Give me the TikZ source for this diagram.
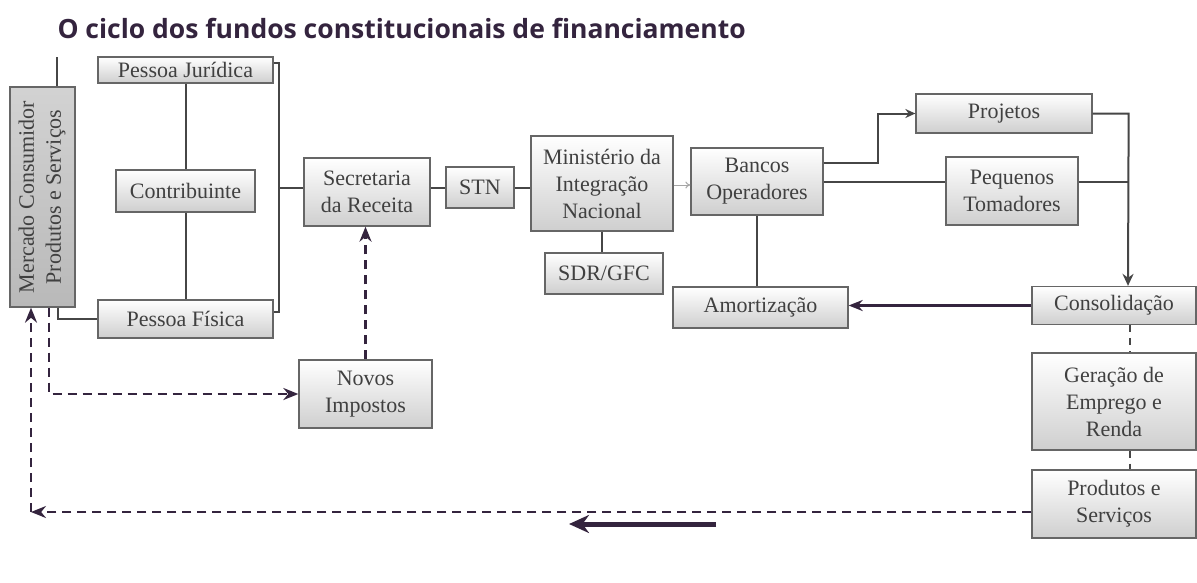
\documentclass[tikz,border=0pt]{standalone}
\usepackage[svgnames]{xcolor}
\usepackage{fontspec}
\setmainfont{Liberation Serif}
\newfontfamily\titulofonte{Open Sans}
\usepackage{tikz}
\usetikzlibrary{arrows.meta}

\definecolor{roxoescuro}{RGB}{52,36,62}
\definecolor{linhacinza}{RGB}{70,70,70}

\tikzset{
  caixa/.style={draw=gray!80!black, line width=1.3pt, top color=white, bottom color=gray!38,
    inner sep=0pt, align=center, text=black!75, font=\fontsize{22}{27}\selectfont},
  liga/.style={draw=linhacinza, line width=2pt},
  tracejada/.style={draw=roxoescuro, line width=2.4pt, dash pattern=on 9pt off 6pt,
    -{Stealth[length=15pt,width=12pt]}},
  seta/.style={draw=roxoescuro, line width=2.4pt, -{Stealth[length=14pt,width=11pt]}}
}

\begin{document}
\begin{tikzpicture}[x=1pt,y=-1pt]
  \useasboundingbox[fill=white] (0,0) rectangle (1197,582);
  \node[anchor=base west, text=roxoescuro, font=\titulofonte\bfseries\fontsize{26.5}{31}\selectfont]
    (titulo) at (54,38) {O ciclo dos fundos constitucionais de financiamento};

  % caixas
  \node[caixa, minimum width=65, minimum height=220, top color=gray!35, bottom color=gray!55] (merc) at (42.5,197)
    {\rotatebox{90}{\fontsize{22}{25}\selectfont\begin{tabular}{@{}c@{}}Mercado Consumidor\\[2pt]Produtos e Serviços\end{tabular}}};
  \node[caixa, minimum width=175, minimum height=26] (pj) at (185.5,70) {Pessoa Jurídica};
  \node[caixa, minimum width=139, minimum height=42] (contrib) at (185.5,191) {Contribuinte};
  \node[caixa, minimum width=175, minimum height=38] (pf) at (185.5,319) {Pessoa Física};
  \node[caixa, minimum width=126, minimum height=68] (sec) at (367,192) {Secretaria\\da Receita};
  \node[caixa, minimum width=68, minimum height=41] (stn) at (480,187.5) {STN};
  \node[caixa, minimum width=142, minimum height=95] (min) at (602,183.5) {Ministério da\\Integração\\Nacional};
  \node[caixa, minimum width=118, minimum height=41] (sdr) at (604,273.5) {SDR/GFC};
  \node[caixa, minimum width=133, minimum height=68] (novos) at (365.5,394) {Novos\\Impostos};
  \node[caixa, minimum width=132, minimum height=67] (bancos) at (757,181.5) {Bancos\\Operadores};
  \node[caixa, minimum width=176, minimum height=39] (proj) at (1004,113.5) {Projetos};
  \node[caixa, minimum width=132, minimum height=68] (peq) at (1012,191) {Pequenos\\Tomadores};
  \node[caixa, minimum width=175, minimum height=41] (amort) at (760.5,307.5) {Amortização};
  \node[caixa, minimum width=164, minimum height=38] (cons) at (1114,305.5) {Consolidação};
  \node[caixa, minimum width=164, minimum height=97] (ger) at (1114,401.5) {Geração de\\Emprego e\\Renda};
  \node[caixa, minimum width=164, minimum height=68] (prod) at (1114,504) {Produtos e\\Serviços};

  % pontos livres
  \coordinate (mtopo) at (57,57);
  \coordinate (chave) at (279,188);
  \coordinate (canto) at (31,512);
  \coordinate (desvio) at (49,395);
  \coordinate (grossa1) at (716,524);
  \coordinate (grossa2) at (569,524);

  % ligacoes
  \draw[liga] (merc.north -| mtopo) -- (mtopo);
  \draw[liga] (merc.south -| 58,0) |- (pf.west);
  \draw[liga] (pj.south) -- (contrib.north);
  \draw[liga] (contrib.south) -- (pf.north);
  \draw[liga] (pj.east |- 0,63) -| (chave) |- (pf.east |- 0,312);
  \draw[liga] (chave) -- (sec.west |- chave);
  \draw[liga] (sec.east |- stn) -- (stn.west);
  \draw[liga] (stn.east) -- (min.west |- stn.east);
  \draw[liga] (min.south) -- (sdr.north -| min.south);
  \draw[gray!70, line width=1pt, -{To[length=5pt,width=7pt]}] (min.east |- 0,185) -- (bancos.west |- 0,185);
  \draw[liga, -{Stealth[length=10pt,width=9pt]}] (bancos.east |- 0,163) -- ++(54,0) |- (proj.west);
  \draw[liga] (bancos.east) -- (peq.west |- bancos.east);
  \draw[liga] (peq.east |- bancos.east) -- ++(50,0);
  \draw[liga, -{Stealth[length=12pt,width=11pt]}] (proj.east) -- ++(36,0) -- (cons.north -| 1128,0);
  \draw[liga] (bancos.south) -- (amort.north -| bancos.south);
  \draw[seta, line width=3pt] (cons.west) -- (amort.east |- cons.west);
  \draw[liga, dash pattern=on 7pt off 6pt] (cons.south -| 1130,0) -- (ger.north -| 1130,0);
  \draw[liga, dash pattern=on 7pt off 6pt] (ger.south -| 1130,0) -- (prod.north -| 1130,0);

  % retorno tracejado
  \draw[tracejada] (prod.west |- canto) -- (canto);
  \draw[tracejada] (canto) -- (merc.south -| canto);
  \draw[tracejada] (merc.south -| desvio) |- (novos.west);
  \draw[tracejada] (novos.north) -- (novos.north |- sec.south);
  \draw[seta, line width=5pt, -{Stealth[length=20pt,width=18pt]}] (grossa1) -- (grossa2);
\end{tikzpicture}
\end{document}
